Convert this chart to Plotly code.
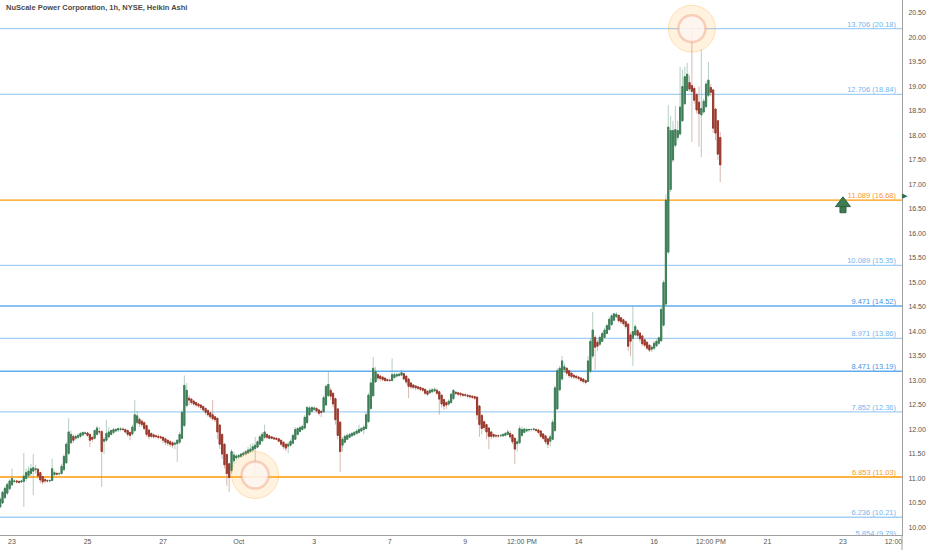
import plotly.graph_objects as go

title_text = "NuScale Power Corporation, 1h, NYSE, Heikin Ashi"

# Hourly bars (extended session, 16 bars per trading day) counted from Mon Sep 23 04:00
bars_per_day = 16
first_bar = -5

ha_open = [
    10.42, 10.50, 10.61, 10.70, 10.79,
    10.87, 10.94, 10.95, 10.94, 10.93, 10.94, 11.00, 11.06, 11.10, 11.15, 11.18, 11.19, 11.12, 11.04, 10.98, 10.96,
    10.95, 10.96, 11.08, 11.10, 11.10, 11.10, 11.18, 11.32, 11.51, 11.73, 11.86, 11.82, 11.84, 11.86, 11.89, 11.92,
    11.93, 11.90, 11.84, 11.82, 11.90, 11.96, 11.96, 11.76, 11.78, 11.85, 11.90, 11.94, 11.97, 11.99, 12.00, 12.01,
    12.00, 11.98, 11.94, 11.91, 11.98, 12.14, 12.21, 12.17, 12.14, 12.08, 11.99, 11.92, 11.89, 11.87, 11.86, 11.85,
    11.84, 11.81, 11.78, 11.75, 11.73, 11.70, 11.71, 11.74, 11.82, 12.08, 12.49, 12.64, 12.62, 12.58, 12.55, 12.52,
    12.50, 12.47, 12.43, 12.39, 12.34, 12.30, 12.26, 12.23, 12.09, 11.90, 11.70, 11.49, 11.30, 11.16, 11.36, 11.42,
    11.44, 11.45, 11.48, 11.50, 11.52, 11.55, 11.58, 11.61, 11.64, 11.70, 11.77, 11.84, 11.90, 11.87, 11.85, 11.83,
    11.82, 11.81, 11.78, 11.74, 11.70, 11.66, 11.68, 11.72, 11.80, 11.90, 11.96, 12.00, 12.03, 12.14, 12.30, 12.37,
    12.41, 12.43, 12.40, 12.37, 12.36, 12.50, 12.69, 12.80, 12.74, 12.63, 12.42, 12.15, 11.68, 11.74, 11.80, 11.84,
    11.87, 11.89, 11.92, 11.94, 11.97, 12.00, 12.02, 12.16, 12.43, 12.69, 12.97, 13.12, 13.09, 13.07, 13.05, 13.02,
    13.01, 13.00, 13.06, 13.09, 13.10, 13.11, 13.14, 13.09, 13.03, 12.95, 12.91, 12.89, 12.87, 12.86, 12.84, 12.82,
    12.78, 12.75, 12.77, 12.79, 12.80, 12.77, 12.70, 12.61, 12.55, 12.52, 12.55, 12.63, 12.76, 12.75, 12.74, 12.72,
    12.71, 12.70, 12.69, 12.68, 12.67, 12.66, 12.48, 12.29, 12.16, 12.10, 12.03, 11.95, 11.90, 11.88, 11.87, 11.87,
    11.87, 11.88, 11.90, 11.92, 11.89, 11.82, 11.71, 11.73, 11.88, 11.94, 11.97, 11.99, 12.00, 12.00, 12.00, 11.99,
    11.97, 11.91, 11.87, 11.81, 11.76, 11.80, 11.98, 12.42, 12.81, 13.03, 13.22, 13.25, 13.20, 13.15, 13.11, 13.09,
    13.07, 13.05, 13.03, 13.00, 12.98, 13.19, 13.50, 13.88, 13.78, 13.74, 13.80, 13.88, 13.96, 14.04, 14.14, 14.23,
    14.30, 14.33, 14.28, 14.24, 14.20, 14.15, 13.93, 13.86, 13.93, 14.02, 13.97, 13.91, 13.83, 13.78, 13.72, 13.64,
    13.66, 13.71, 13.76, 13.81, 14.13, 14.56, 15.62, 16.90, 17.50, 17.80, 17.96, 18.03, 18.30, 18.65, 18.92, 19.08,
    19.02, 18.96, 18.84, 18.68, 18.42, 18.48, 18.59, 18.82, 18.98, 18.93, 18.54, 18.30, 17.96,
]
ha_high = [
    10.62, 10.75, 10.85, 10.92, 10.98,
    11.20, 10.98, 10.97, 10.96, 10.97, 11.52, 11.20, 11.25, 11.30, 11.50, 11.28, 11.21, 11.14, 11.06, 11.00, 10.98,
    10.98, 11.40, 11.15, 11.14, 11.13, 11.30, 11.50, 11.75, 12.23, 11.98, 11.90, 11.90, 11.92, 11.95, 11.96, 11.96,
    11.95, 11.92, 11.86, 12.00, 12.08, 12.05, 11.98, 11.85, 12.20, 12.05, 12.00, 12.04, 12.03, 12.04, 12.05, 12.04,
    12.02, 12.00, 11.96, 12.10, 12.60, 12.38, 12.24, 12.20, 12.16, 12.10, 12.00, 11.94, 11.92, 11.90, 11.90, 11.88,
    11.86, 11.83, 11.80, 11.78, 11.76, 11.75, 11.80, 11.95, 12.40, 13.10, 12.95, 12.70, 12.64, 12.60, 12.57, 12.54,
    12.52, 12.49, 12.45, 12.41, 12.36, 12.60, 12.28, 12.25, 12.11, 11.92, 11.72, 11.51, 11.32, 11.60, 11.55, 11.50,
    11.50, 11.52, 11.55, 11.58, 11.65, 11.70, 11.72, 11.85, 11.78, 11.90, 11.95, 12.10, 11.92, 11.89, 11.86, 11.85,
    11.84, 11.83, 11.80, 11.76, 11.72, 11.75, 11.80, 11.92, 12.05, 12.05, 12.08, 12.10, 12.30, 12.48, 12.48, 12.47,
    12.48, 12.46, 12.42, 12.40, 12.70, 12.92, 13.19, 12.85, 12.76, 12.65, 12.44, 12.17, 11.85, 11.90, 11.92, 11.93,
    11.95, 11.97, 12.00, 12.10, 12.05, 12.10, 12.35, 12.75, 13.05, 13.48, 13.28, 13.15, 13.12, 13.08, 13.06, 13.04,
    13.04, 13.45, 13.16, 13.16, 13.16, 13.22, 13.16, 13.10, 13.05, 12.97, 12.93, 12.90, 12.88, 12.87, 12.85, 12.83,
    12.80, 12.84, 12.85, 12.86, 12.84, 12.79, 12.72, 12.63, 12.57, 12.62, 12.75, 12.82, 12.78, 12.76, 12.75, 12.74,
    12.74, 12.72, 12.71, 12.70, 12.69, 12.68, 12.50, 12.30, 12.18, 12.12, 12.05, 11.97, 11.92, 11.90, 11.90, 11.90,
    11.92, 11.95, 12.00, 11.98, 11.91, 11.84, 11.80, 12.08, 12.06, 12.04, 12.03, 12.02, 12.02, 12.02, 12.02, 12.01,
    11.98, 11.93, 11.89, 11.83, 11.90, 12.20, 12.90, 13.25, 13.30, 13.50, 13.35, 13.27, 13.22, 13.16, 13.12, 13.10,
    13.09, 13.07, 13.05, 13.02, 13.50, 13.85, 14.40, 13.92, 13.82, 13.92, 14.00, 14.08, 14.15, 14.30, 14.36, 14.38,
    14.40, 14.34, 14.30, 14.26, 14.22, 14.18, 13.98, 14.52, 14.15, 14.05, 13.99, 13.93, 13.85, 13.80, 13.74, 13.72,
    13.80, 13.84, 13.90, 14.50, 15.05, 16.80, 18.62, 18.40, 18.30, 18.60, 18.30, 19.40, 19.34, 19.40, 19.48, 19.22,
    20.18, 19.00, 18.86, 19.00, 19.75, 18.75, 19.10, 19.50, 19.05, 18.95, 18.56, 18.32, 18.07,
]
ha_low = [
    10.40, 10.48, 10.58, 10.66, 10.76,
    10.85, 10.90, 10.90, 10.90, 10.91, 10.42, 10.95, 11.02, 11.05, 10.66, 11.10, 11.00, 10.90, 10.88, 10.90, 10.92,
    10.92, 10.94, 11.05, 11.06, 11.06, 11.08, 11.15, 11.30, 11.48, 11.70, 11.72, 11.78, 11.80, 11.82, 11.86, 11.88,
    11.85, 11.64, 11.74, 11.80, 11.88, 11.90, 10.83, 11.50, 11.75, 11.82, 11.88, 11.90, 11.94, 11.95, 11.96, 11.97,
    11.92, 11.85, 11.78, 11.88, 11.95, 12.10, 12.05, 12.05, 11.98, 11.85, 11.80, 11.82, 11.82, 11.82, 11.80, 11.80,
    11.72, 11.68, 11.66, 11.64, 11.62, 11.60, 11.34, 11.70, 11.80, 12.05, 12.45, 12.50, 12.50, 12.48, 12.45, 12.44,
    12.40, 12.36, 12.30, 12.26, 12.22, 12.18, 12.15, 11.80, 11.60, 11.40, 11.20, 10.85, 10.72, 11.10, 11.30, 11.38,
    11.40, 11.42, 11.45, 11.47, 11.50, 11.52, 11.55, 11.07, 11.62, 11.68, 11.75, 11.80, 11.80, 11.80, 11.80, 11.79,
    11.78, 11.74, 11.66, 11.60, 11.56, 11.52, 11.65, 11.70, 11.78, 11.88, 11.94, 11.98, 12.00, 12.12, 12.28, 12.35,
    12.38, 12.35, 12.28, 12.25, 12.34, 12.48, 12.66, 12.60, 12.45, 12.10, 11.80, 11.13, 11.55, 11.72, 11.78, 11.82,
    11.85, 11.87, 11.90, 11.92, 11.95, 11.90, 12.00, 12.14, 12.40, 12.66, 12.95, 13.00, 12.98, 12.98, 12.97, 12.97,
    12.97, 12.98, 13.04, 13.06, 13.08, 13.09, 13.00, 12.92, 12.64, 12.82, 12.82, 12.80, 12.80, 12.78, 12.76, 12.70,
    12.68, 12.72, 12.74, 12.76, 12.70, 12.30, 12.45, 12.40, 12.42, 12.48, 12.53, 12.60, 12.70, 12.68, 12.66, 12.66,
    12.66, 12.64, 12.63, 12.62, 12.60, 12.20, 11.85, 11.90, 11.98, 11.80, 11.60, 11.80, 11.82, 11.82, 11.83, 11.84,
    11.85, 11.86, 11.88, 11.80, 11.70, 11.30, 11.55, 11.70, 11.85, 11.92, 11.94, 11.95, 11.96, 11.96, 11.95, 11.90,
    11.82, 11.78, 11.70, 11.62, 11.66, 11.78, 11.95, 12.40, 12.78, 13.00, 13.15, 13.10, 13.05, 13.04, 13.03, 13.02,
    13.00, 12.96, 12.94, 12.92, 12.96, 13.15, 13.45, 13.22, 13.60, 13.70, 13.78, 13.86, 13.94, 14.02, 14.12, 14.20,
    14.28, 14.18, 14.15, 14.12, 14.05, 13.60, 13.50, 13.30, 13.90, 13.85, 13.78, 13.70, 13.68, 13.62, 13.58, 13.58,
    13.62, 13.68, 13.73, 13.79, 14.10, 14.52, 15.58, 16.85, 17.45, 17.75, 17.90, 18.00, 18.28, 18.62, 18.90, 18.90,
    17.87, 18.65, 18.45, 17.77, 17.56, 18.45, 18.55, 18.78, 18.80, 18.05, 17.90, 17.50, 17.05,
]
ha_close = [
    10.58, 10.72, 10.80, 10.88, 10.95,
    11.00, 10.95, 10.93, 10.92, 10.95, 11.05, 11.12, 11.15, 11.20, 11.22, 11.20, 11.05, 10.97, 10.93, 10.95, 10.95,
    10.96, 11.20, 11.12, 11.09, 11.10, 11.25, 11.45, 11.70, 11.95, 11.90, 11.78, 11.86, 11.88, 11.92, 11.94, 11.93,
    11.88, 11.78, 11.80, 11.98, 12.03, 11.95, 11.55, 11.80, 11.92, 11.95, 11.98, 12.00, 12.00, 12.02, 12.01, 12.00,
    11.95, 11.90, 11.88, 12.05, 12.30, 12.28, 12.12, 12.10, 12.02, 11.90, 11.86, 11.86, 11.85, 11.86, 11.84, 11.83,
    11.78, 11.74, 11.72, 11.70, 11.68, 11.72, 11.78, 11.90, 12.35, 12.90, 12.80, 12.60, 12.55, 12.52, 12.50, 12.48,
    12.45, 12.40, 12.35, 12.30, 12.26, 12.22, 12.20, 11.95, 11.70, 11.50, 11.28, 11.10, 11.02, 11.55, 11.48, 11.46,
    11.47, 11.50, 11.52, 11.55, 11.58, 11.60, 11.65, 11.68, 11.75, 11.85, 11.90, 11.95, 11.84, 11.82, 11.82, 11.81,
    11.80, 11.76, 11.70, 11.65, 11.62, 11.70, 11.76, 11.88, 12.00, 12.02, 12.04, 12.06, 12.25, 12.45, 12.44, 12.45,
    12.44, 12.38, 12.33, 12.35, 12.65, 12.88, 12.92, 12.68, 12.52, 12.20, 11.88, 11.55, 11.80, 11.86, 11.88, 11.90,
    11.92, 11.94, 11.97, 12.00, 12.02, 12.05, 12.30, 12.70, 12.95, 13.25, 13.18, 13.05, 13.04, 13.02, 13.00, 13.00,
    13.00, 13.12, 13.12, 13.12, 13.13, 13.16, 13.03, 12.97, 12.88, 12.87, 12.86, 12.85, 12.84, 12.82, 12.80, 12.74,
    12.72, 12.80, 12.81, 12.82, 12.74, 12.62, 12.52, 12.48, 12.50, 12.58, 12.72, 12.80, 12.74, 12.72, 12.71, 12.70,
    12.70, 12.68, 12.67, 12.66, 12.64, 12.30, 12.10, 12.02, 12.04, 11.95, 11.86, 11.86, 11.86, 11.87, 11.87, 11.88,
    11.90, 11.92, 11.95, 11.85, 11.75, 11.60, 11.75, 12.02, 12.00, 12.01, 12.00, 12.00, 12.00, 12.01, 11.98, 11.94,
    11.86, 11.82, 11.75, 11.70, 11.85, 12.15, 12.85, 13.20, 13.25, 13.40, 13.28, 13.15, 13.10, 13.08, 13.07, 13.06,
    13.04, 13.00, 12.98, 12.96, 13.40, 13.80, 14.03, 13.68, 13.70, 13.88, 13.96, 14.03, 14.12, 14.25, 14.32, 14.36,
    14.35, 14.22, 14.20, 14.16, 14.10, 13.70, 13.80, 14.00, 14.10, 13.92, 13.85, 13.75, 13.72, 13.66, 13.62, 13.68,
    13.76, 13.80, 13.87, 14.45, 15.00, 16.68, 18.17, 18.10, 18.10, 18.12, 18.10, 18.58, 19.00, 19.20, 19.25, 18.95,
    18.90, 18.72, 18.52, 18.45, 18.55, 18.70, 19.05, 19.13, 18.88, 18.15, 18.05, 17.62, 17.40,
]

levels = [20.18, 18.84, 16.68, 15.35, 14.52, 13.86, 13.19, 12.36, 11.03, 10.21, 9.79]
level_labels = ["13.706 (20.18)", "12.706 (18.84)", "11.089 (16.68)", "10.089 (15.35)", "9.471 (14.52)",
                "8.971 (13.86)", "8.471 (13.19)", "7.852 (12.36)", "6.853 (11.03)", "6.236 (10.21)",
                "5.854 (9.79)"]
level_kind = ["light", "light", "orange", "light", "mid", "light", "mid", "light", "orange", "light", "light"]

pivot_low_bar = 103
signal_bar = 352
signal_price = 16.57
marker_price = 16.77

x_tick_days = [0, 2, 4, 6, 8, 10, 12, 13, 15, 17, 18, 20, 22, 23]
x_tick_text = ["23", "25", "27", "Oct", "3", "7", "9", "12:00 PM", "14", "16", "12:00 PM", "21", "23", "12:00 PM"]
y_tick_values = [10.0, 10.5, 11.0, 11.5, 12.0, 12.5, 13.0, 13.5, 14.0, 14.5, 15.0, 15.5,
                 16.0, 16.5, 17.0, 17.5, 18.0, 18.5, 19.0, 19.5, 20.0, 20.5]

# ---------------------------------------------------------------------------
n = len(ha_open)
assert n == len(ha_high) == len(ha_low) == len(ha_close)
bars = list(range(first_bar, first_bar + n))
body_top = [max(o, c) for o, c in zip(ha_open, ha_close)]
body_bot = [min(o, c) for o, c in zip(ha_open, ha_close)]

X_RANGE = [-5.08, 377.0]
Y_RANGE = [9.847, 20.765]
PLOT_W = 902
px_per_bar = PLOT_W / (X_RANGE[1] - X_RANGE[0])

GREEN = "#3f7f58"
RED = "#9a3a2d"
FONT = "Liberation Sans"

style = {
    "light": ("#a3cff5", "#74b6ec"),
    "mid": ("#62adf0", "#3f97e4"),
    "orange": ("#ff9800", "#f59a2c"),
}

fig = go.Figure()

# level lines
for lv, kind in zip(levels, level_kind):
    fig.add_shape(type="line", xref="paper", x0=0, x1=1, yref="y", y0=lv, y1=lv,
                  line=dict(color=style[kind][0], width=1.4), layer="below")

# wicks
fig.add_trace(go.Candlestick(
    x=bars, open=ha_open, high=ha_high, low=ha_low, close=ha_close,
    increasing=dict(line=dict(color="rgba(120,165,140,0.55)", width=1), fillcolor="rgba(0,0,0,0)"),
    decreasing=dict(line=dict(color="rgba(185,125,115,0.55)", width=1), fillcolor="rgba(0,0,0,0)"),
    whiskerwidth=0, hoverinfo="skip", showlegend=False))
# bodies
fig.add_trace(go.Candlestick(
    x=bars, open=ha_open, high=body_top, low=body_bot, close=ha_close,
    increasing=dict(line=dict(color=GREEN, width=1), fillcolor=GREEN),
    decreasing=dict(line=dict(color=RED, width=1), fillcolor=RED),
    whiskerwidth=0, hoverinfo="skip", showlegend=False))

# pivot circles
hi_idx = max(range(n), key=lambda i: ha_high[i])
lo_idx = pivot_low_bar - first_bar
piv_x = [bars[lo_idx], bars[hi_idx]]
piv_y = [ha_low[lo_idx], ha_high[hi_idx]]
fig.add_trace(go.Scatter(x=piv_x, y=piv_y, mode="markers", hoverinfo="skip", showlegend=False,
                         marker=dict(size=47, color="rgba(255,183,77,0.18)",
                                     line=dict(color="rgba(255,167,38,0.30)", width=1))))
fig.add_trace(go.Scatter(x=piv_x, y=piv_y, mode="markers", hoverinfo="skip", showlegend=False,
                         marker=dict(size=27, color="rgba(255,246,242,0.85)",
                                     line=dict(color="rgba(238,150,115,0.40)", width=2.5))))

# level labels (clipped to plot area)
label_x = X_RANGE[1] - 6 / px_per_bar
for lv, txt, kind in zip(levels, level_labels, level_kind):
    fig.add_trace(go.Scatter(x=[label_x], y=[lv], mode="text", text=[txt], textposition="top left",
                             textfont=dict(family=FONT, size=7.5, color=style[kind][1]),
                             hoverinfo="skip", showlegend=False, cliponaxis=True))

# signal arrow
fig.add_trace(go.Scatter(x=[signal_bar], y=[signal_price + 0.045], mode="markers", hoverinfo="skip",
                         showlegend=False,
                         marker=dict(symbol="triangle-up", size=13, color="#3c7d52",
                                     line=dict(color="#2f6142", width=1))))
fig.add_trace(go.Scatter(x=[signal_bar], y=[signal_price - 0.085], mode="markers", hoverinfo="skip",
                         showlegend=False,
                         marker=dict(symbol="square", size=6, color="#3c7d52",
                                     line=dict(color="#2f6142", width=1))))

# title
fig.add_annotation(text=title_text, xref="paper", yref="paper", x=0.004, y=1 - 8 / 535,
                   xanchor="left", yanchor="middle", showarrow=False,
                   font=dict(family=FONT, size=7.5, color="#4a4a4a", weight="bold"))
# price marker on the axis
fig.add_annotation(text="\u25B6", xref="paper", yref="y", x=1, y=marker_price, xanchor="left",
                   yanchor="middle", showarrow=False, xshift=-2,
                   font=dict(family="DejaVu Sans", size=7, color="#2e6b44"))

# axis extension + clip of last x label
fig.add_shape(type="line", xref="paper", yref="paper", x0=1, x1=1, y0=0, y1=-0.04,
              line=dict(color="#a0a0a0", width=1), layer="above")
fig.add_shape(type="rect", xref="paper", yref="paper", x0=1.0015, x1=1.05, y0=-0.04, y1=-0.002,
              fillcolor="white", line=dict(width=0), layer="above")

tick_pos = [d * bars_per_day + (8 if t.endswith("PM") else 0) for d, t in zip(x_tick_days, x_tick_text)]

fig.update_layout(
    width=932, height=550,
    margin=dict(l=0, r=30, t=0, b=15),
    paper_bgcolor="white", plot_bgcolor="white",
    showlegend=False,
    xaxis=dict(range=X_RANGE, showgrid=False, zeroline=False, showline=True,
               linecolor="#a0a0a0", linewidth=1, ticks="", tickvals=tick_pos, ticktext=x_tick_text,
               tickfont=dict(family=FONT, size=7, color="#555555"), rangeslider=dict(visible=False),
               fixedrange=True),
    yaxis=dict(range=Y_RANGE, side="right", showgrid=False, zeroline=False, showline=True,
               linecolor="#a0a0a0", linewidth=1, ticks="", tickvals=y_tick_values,
               ticktext=[f"{v:.2f}" for v in y_tick_values], ticklabelstandoff=4,
               tickfont=dict(family=FONT, size=7, color="#555555"), fixedrange=True),
)

fig.write_html("out.html", config={"displayModeBar": False},
               post_script="document.body.style.margin='0';")
